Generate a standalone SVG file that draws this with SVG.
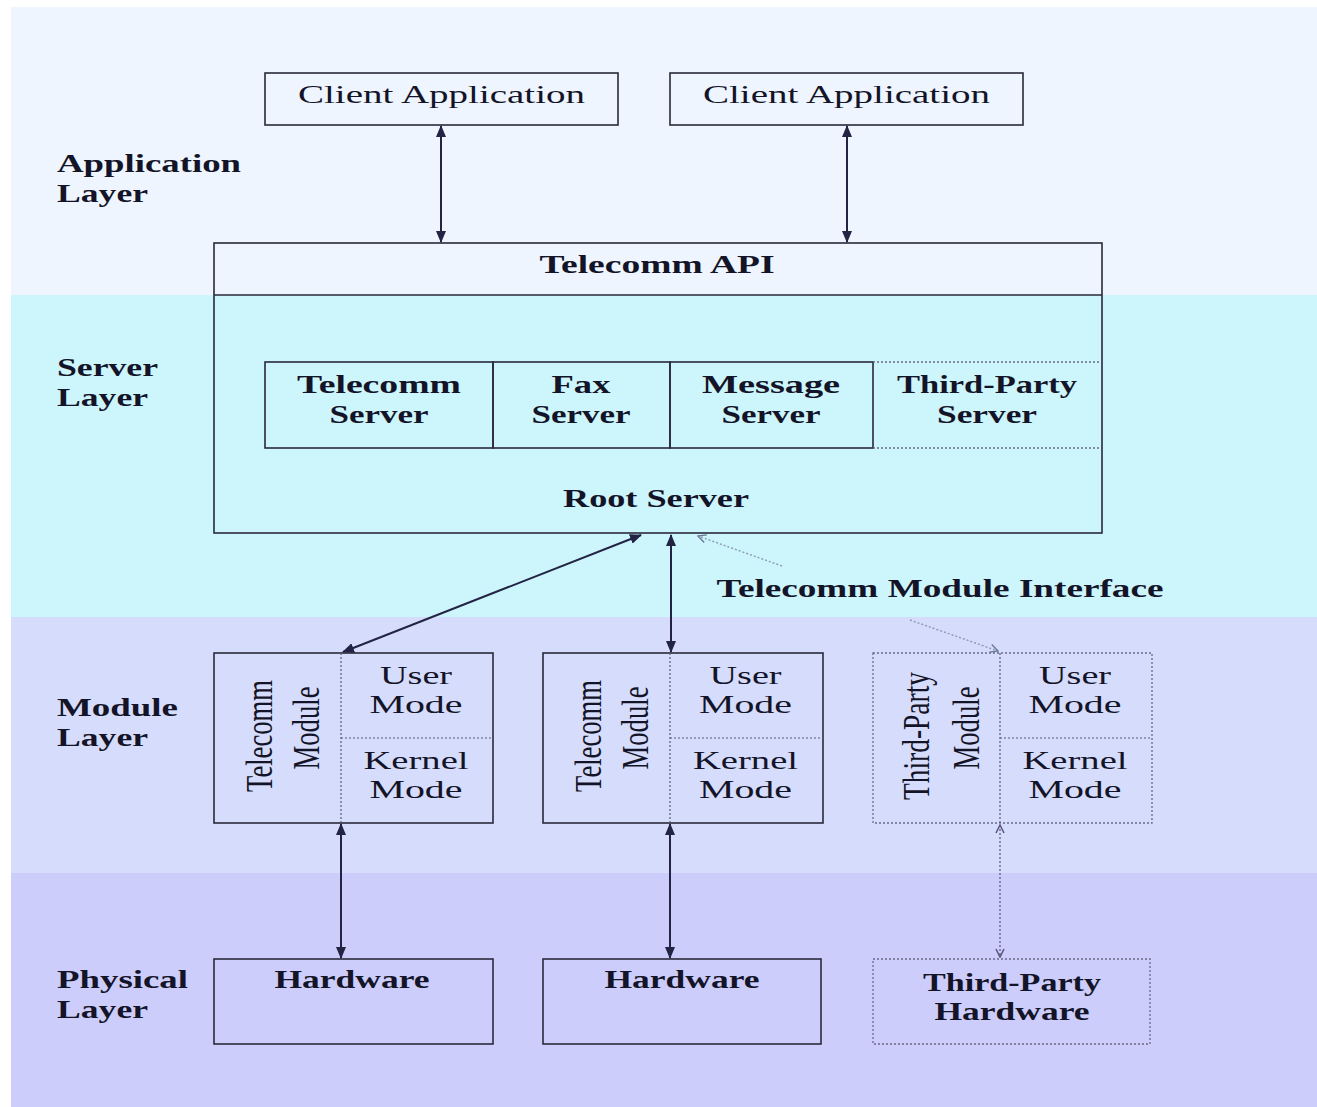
<svg xmlns="http://www.w3.org/2000/svg" width="1317" height="1107" viewBox="0 0 1317 1107">
<defs>
<style>
.t{font-family:"Liberation Serif","Times New Roman",serif;font-size:26px;fill:#141428;font-weight:bold}
.r{font-weight:normal}
.c{text-anchor:middle}
.box{fill:none;stroke:#2a2a3a;stroke-width:1.6}
.dbox{fill:none;stroke:#6a6a88;stroke-width:1.3;stroke-dasharray:2 2}
.div{fill:none;stroke:#5a5a78;stroke-width:1.2;stroke-dasharray:2 2}
.arr{fill:none;stroke:#232343;stroke-width:2;marker-start:url(#ah);marker-end:url(#ah)}
.darr{fill:none;stroke:#6a6a88;stroke-width:1.4;stroke-dasharray:2 2;marker-start:url(#oh);marker-end:url(#oh)}
.ptr{fill:none;stroke:#8a9ab0;stroke-width:1.4;stroke-dasharray:2 2}
</style>
<marker id="ah" viewBox="0 0 12 10" refX="11" refY="5" markerWidth="12" markerHeight="10" markerUnits="userSpaceOnUse" orient="auto-start-reverse">
<path d="M0,0 L12,5 L0,10 Z" fill="#232343"/>
</marker>
<marker id="oh" viewBox="0 0 10 10" refX="9" refY="5" markerWidth="10" markerHeight="10" markerUnits="userSpaceOnUse" orient="auto-start-reverse">
<path d="M1,1 L9,5 L1,9" fill="none" stroke="#55557a" stroke-width="1.5"/>
</marker>
<marker id="ph" viewBox="0 0 10 10" refX="9" refY="5" markerWidth="10" markerHeight="10" markerUnits="userSpaceOnUse" orient="auto">
<path d="M1,1 L9,5 L1,9" fill="none" stroke="#6a7a98" stroke-width="1.4"/>
</marker>
</defs>

<g id="background">
<rect x="0" y="0" width="1317" height="1107" fill="#ffffff"/>
<rect x="11" y="7" width="1306" height="288" fill="#eef5fe"/>
<rect x="11" y="295" width="1306" height="322" fill="#ccf5fc"/>
<rect x="11" y="617" width="1306" height="256" fill="#d6dcfc"/>
<rect x="11" y="873" width="1306" height="234" fill="#cccdfb"/>
</g>

<g id="layer-labels">
<text class="t" x="57" y="172" textLength="184" lengthAdjust="spacingAndGlyphs">Application</text>
<text class="t" x="57" y="202" textLength="91" lengthAdjust="spacingAndGlyphs">Layer</text>
<text class="t" x="57" y="376" textLength="101" lengthAdjust="spacingAndGlyphs">Server</text>
<text class="t" x="57" y="406" textLength="91" lengthAdjust="spacingAndGlyphs">Layer</text>
<text class="t" x="57" y="716" textLength="121" lengthAdjust="spacingAndGlyphs">Module</text>
<text class="t" x="57" y="746" textLength="91" lengthAdjust="spacingAndGlyphs">Layer</text>
<text class="t" x="57" y="988" textLength="131" lengthAdjust="spacingAndGlyphs">Physical</text>
<text class="t" x="57" y="1018" textLength="91" lengthAdjust="spacingAndGlyphs">Layer</text>
</g>

<g id="client-app-1">
<rect class="box" x="265" y="73" width="353" height="52"/>
<text class="t r c" x="441.5" y="103" textLength="287" lengthAdjust="spacingAndGlyphs">Client Application</text>
</g>
<g id="client-app-2">
<rect class="box" x="670" y="73" width="353" height="52"/>
<text class="t r c" x="846.5" y="103" textLength="287" lengthAdjust="spacingAndGlyphs">Client Application</text>
</g>

<g id="root-server">
<rect class="box" x="214" y="243" width="888" height="290"/>
<line class="box" x1="214" y1="295" x2="1102" y2="295"/>
<text class="t c" x="657" y="273" textLength="235" lengthAdjust="spacingAndGlyphs">Telecomm API</text>
<text class="t c" x="656" y="507" textLength="186" lengthAdjust="spacingAndGlyphs">Root Server</text>
</g>

<g id="telecomm-server">
<rect class="box" x="265" y="362" width="228" height="86"/>
<text class="t c" x="379" y="393" textLength="164" lengthAdjust="spacingAndGlyphs">Telecomm</text>
<text class="t c" x="379" y="423" textLength="99" lengthAdjust="spacingAndGlyphs">Server</text>
</g>
<g id="fax-server">
<rect class="box" x="493" y="362" width="177" height="86"/>
<text class="t c" x="581" y="393" textLength="59" lengthAdjust="spacingAndGlyphs">Fax</text>
<text class="t c" x="581" y="423" textLength="99" lengthAdjust="spacingAndGlyphs">Server</text>
</g>
<g id="message-server">
<rect class="box" x="670" y="362" width="203" height="86"/>
<text class="t c" x="771" y="393" textLength="138" lengthAdjust="spacingAndGlyphs">Message</text>
<text class="t c" x="771" y="423" textLength="99" lengthAdjust="spacingAndGlyphs">Server</text>
</g>
<g id="third-party-server">
<line class="dbox" x1="873" y1="362" x2="1101" y2="362"/>
<line class="dbox" x1="873" y1="448" x2="1101" y2="448"/>
<text class="t c" x="987" y="393" textLength="180" lengthAdjust="spacingAndGlyphs">Third-Party</text>
<text class="t c" x="987" y="423" textLength="100" lengthAdjust="spacingAndGlyphs">Server</text>
</g>

<g id="interface-label">
<text class="t c" x="940" y="597" textLength="447" lengthAdjust="spacingAndGlyphs">Telecomm Module Interface</text>
</g>

<g id="telecomm-module-1">
<rect class="box" x="214" y="653" width="279" height="170"/>
<line class="div" x1="341" y1="653" x2="341" y2="823"/>
<line class="div" x1="341" y1="738" x2="493" y2="738"/>
<text class="t r c" transform="translate(272,736) rotate(-90)" textLength="112" lengthAdjust="spacingAndGlyphs" style="font-size:37px">Telecomm</text>
<text class="t r c" transform="translate(319,728) rotate(-90)" textLength="83" lengthAdjust="spacingAndGlyphs" style="font-size:37px">Module</text>
<text class="t r c" x="416" y="684" textLength="72" lengthAdjust="spacingAndGlyphs">User</text>
<text class="t r c" x="416" y="713" textLength="93" lengthAdjust="spacingAndGlyphs">Mode</text>
<text class="t r c" x="416" y="769" textLength="105" lengthAdjust="spacingAndGlyphs">Kernel</text>
<text class="t r c" x="416" y="798" textLength="93" lengthAdjust="spacingAndGlyphs">Mode</text>
</g>

<g id="telecomm-module-2">
<rect class="box" x="543" y="653" width="280" height="170"/>
<line class="div" x1="670" y1="653" x2="670" y2="823"/>
<line class="div" x1="670" y1="738" x2="823" y2="738"/>
<text class="t r c" transform="translate(601,736) rotate(-90)" textLength="112" lengthAdjust="spacingAndGlyphs" style="font-size:37px">Telecomm</text>
<text class="t r c" transform="translate(648,728) rotate(-90)" textLength="83" lengthAdjust="spacingAndGlyphs" style="font-size:37px">Module</text>
<text class="t r c" x="745.5" y="684" textLength="72" lengthAdjust="spacingAndGlyphs">User</text>
<text class="t r c" x="745.5" y="713" textLength="93" lengthAdjust="spacingAndGlyphs">Mode</text>
<text class="t r c" x="745.5" y="769" textLength="105" lengthAdjust="spacingAndGlyphs">Kernel</text>
<text class="t r c" x="745.5" y="798" textLength="93" lengthAdjust="spacingAndGlyphs">Mode</text>
</g>

<g id="third-party-module">
<rect class="dbox" x="873" y="653" width="279" height="170"/>
<line class="div" x1="1000" y1="653" x2="1000" y2="823"/>
<line class="div" x1="1000" y1="738" x2="1152" y2="738"/>
<text class="t r c" transform="translate(929,736) rotate(-90)" textLength="128" lengthAdjust="spacingAndGlyphs" style="font-size:37px">Third-Party</text>
<text class="t r c" transform="translate(979,728) rotate(-90)" textLength="83" lengthAdjust="spacingAndGlyphs" style="font-size:37px">Module</text>
<text class="t r c" x="1075" y="684" textLength="72" lengthAdjust="spacingAndGlyphs">User</text>
<text class="t r c" x="1075" y="713" textLength="93" lengthAdjust="spacingAndGlyphs">Mode</text>
<text class="t r c" x="1075" y="769" textLength="105" lengthAdjust="spacingAndGlyphs">Kernel</text>
<text class="t r c" x="1075" y="798" textLength="93" lengthAdjust="spacingAndGlyphs">Mode</text>
</g>

<g id="hardware-1">
<rect class="box" x="214" y="959" width="279" height="85"/>
<text class="t c" x="352" y="988" textLength="155" lengthAdjust="spacingAndGlyphs">Hardware</text>
</g>
<g id="hardware-2">
<rect class="box" x="543" y="959" width="278" height="85"/>
<text class="t c" x="682" y="988" textLength="155" lengthAdjust="spacingAndGlyphs">Hardware</text>
</g>
<g id="third-party-hardware">
<rect class="dbox" x="873" y="959" width="277" height="85"/>
<text class="t c" x="1012" y="991" textLength="178" lengthAdjust="spacingAndGlyphs">Third-Party</text>
<text class="t c" x="1012" y="1020" textLength="155" lengthAdjust="spacingAndGlyphs">Hardware</text>
</g>

<g id="connectors">
<line class="arr" x1="441" y1="126" x2="441" y2="242"/>
<line class="arr" x1="847" y1="126" x2="847" y2="242"/>
<line class="arr" x1="641" y1="535" x2="343" y2="652"/>
<line class="arr" x1="671" y1="535" x2="671" y2="652"/>
<line class="arr" x1="341" y1="824" x2="341" y2="958"/>
<line class="arr" x1="670" y1="824" x2="670" y2="958"/>
<line class="darr" x1="1000" y1="825" x2="1000" y2="957"/>
<line class="ptr" x1="782" y1="566" x2="698" y2="536" marker-end="url(#ph)"/>
<line class="ptr" x1="910" y1="620" x2="998" y2="651" marker-end="url(#ph)"/>
</g>
</svg>
